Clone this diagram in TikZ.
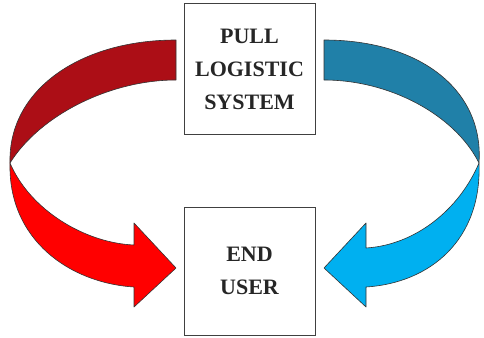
\documentclass[tikz,border=0pt]{standalone}
\usepackage{fontspec}
\setmainfont{Liberation Serif}
\usepackage{tikz}
\usetikzlibrary{calc}

\definecolor{ribbondark}{RGB}{172,14,22}
\definecolor{ribbonred}{RGB}{255,0,0}
\definecolor{ribbonteal}{RGB}{32,128,168}
\definecolor{ribboncyan}{RGB}{0,176,240}

\begin{document}
\begin{tikzpicture}[x=1pt,y=-1pt,
	box/.style={draw=black!75, line width=1pt, fill=white, align=center,
		font=\fontsize{22}{33}\selectfont\bfseries, text=black!85},
	band/.style={draw=black!80, line width=0.6pt, line join=round}]
	\useasboundingbox (0,0) rectangle (484,337);
	\node[box, minimum width=131pt, minimum height=130pt] (pls) at (249.5,69) {PULL\\LOGISTIC\\SYSTEM};
	\node[box, minimum width=131pt, minimum height=128pt] (eu) at (249.5,271) {END\\USER};

	% left band, top half
	\fill[ribbondark, band] (176,40) -- (176,80)
		.. controls (110,80) and (40,115) .. (10,163)
		.. controls (8,90) and (80,40) .. (176,40) -- cycle;
	% left band, lower half with head
	\fill[ribbonred, band] (10,163) .. controls (30,210) and (85,243) .. (134,245)
		-- (134,223) -- (176,268) -- (134,307) -- (134,287)
		.. controls (70,283) and (8,240) .. (10,163) -- cycle;

	% right band, top half
	\fill[ribbonteal, band] (324,40) -- (324,80)
		.. controls (390,80) and (455,115) .. (479,163)
		.. controls (484,90) and (420,40) .. (324,40) -- cycle;
	% right band, lower half with head
	\fill[ribboncyan, band] (479,163) .. controls (459,210) and (415,245) .. (366,248)
		-- (366,223) -- (324,268) -- (366,307) -- (366,287)
		.. controls (430,283) and (482,240) .. (479,163) -- cycle;
\end{tikzpicture}
\end{document}
